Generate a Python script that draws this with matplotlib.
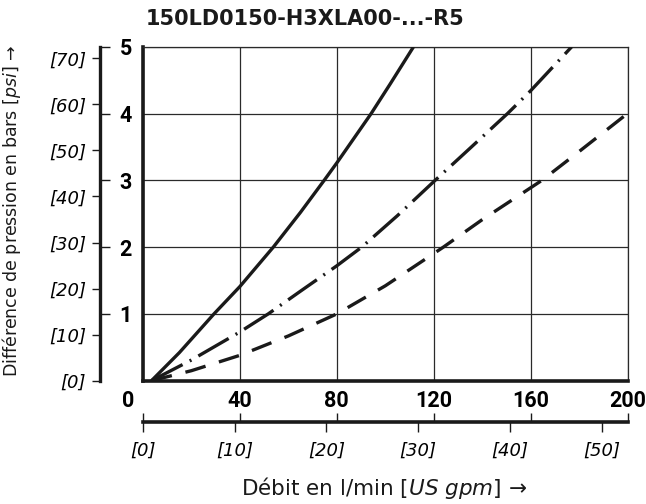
import matplotlib
matplotlib.use("Agg")
import matplotlib.pyplot as plt
import matplotlib.transforms as mtrans
from matplotlib.ticker import FixedLocator, FixedFormatter, NullFormatter

# ---------------- data ----------------
title = "150LD0150-H3XLA00-...-R5"

flow_solid = [3.5, 15, 29.3, 40, 53.8, 65, 74.8, 80, 94.2, 102, 111.7]
dp_solid = [0.0, 0.42, 1.0, 1.41, 2.0, 2.52, 3.0, 3.26, 4.0, 4.44, 5.0]

flow_dashdot = [3.5, 20, 40, 51.7, 65, 80, 90.3, 105, 120.6, 135, 150.5, 160, 177]
dp_dashdot = [0.0, 0.31, 0.73, 1.0, 1.34, 1.72, 2.0, 2.47, 3.0, 3.48, 4.0, 4.34, 5.0]

flow_dashed = [3.5, 20, 40, 60, 80, 100, 124, 140, 164.7, 180, 200]
dp_dashed = [0.0, 0.15, 0.38, 0.67, 1.0, 1.42, 2.0, 2.41, 3.0, 3.43, 4.0]

lpm_ticks = [0, 40, 80, 120, 160, 200]
bar_ticks = [1, 2, 3, 4, 5]
psi_ticks = [0, 10, 20, 30, 40, 50, 60, 70]
gpm_ticks = [0, 10, 20, 30, 40, 50]

xlabel_main = "Débit en l/min "
xlabel_unit = r"$\mathit{[US\ gpm]}$"
ylabel_main = "Différence de pression en bars "
ylabel_unit = r"$\mathit{[psi]}$"
arrow = " →"

PSI_PER_BAR = 14.5038
LPM_PER_GPM = 3.78541

# ---------------- fonts ----------------
plt.rcParams["font.family"] = ["DejaVu Sans"]
plt.rcParams["mathtext.fontset"] = "custom"
plt.rcParams["mathtext.rm"] = "DejaVu Sans"
plt.rcParams["mathtext.it"] = "DejaVu Sans:italic"

narrow = dict(family=["Roboto", "DejaVu Sans"], weight="bold")

INK = "#1a1a1a"
GRID = "#2a2a2a"

W, H = 646, 504
fig = plt.figure(figsize=(W / 100, H / 100), dpi=100)


def fx(px):
    return px / W


def fy(py):
    return 1 - py / H


L, R, T, B = 143, 627.5, 46.7, 380.7

# ---------------- main axes ----------------
ax = fig.add_axes([fx(L), fy(B), fx(R) - fx(L), fy(T) - fy(B)])
ax.set_xlim(0, 200)
ax.set_ylim(0, 5)
ax.set_axisbelow(True)
ax.grid(True, color=GRID, lw=0.9)
ax.set_xticks(lpm_ticks)
ax.set_yticks(bar_ticks)
ax.tick_params(length=0)
ax.tick_params(axis="x", pad=7)
ax.tick_params(axis="y", pad=8)
ax.set_xticklabels([str(v) for v in lpm_ticks], fontsize=15.5, **narrow)
ax.set_yticklabels([str(v) for v in bar_ticks], fontsize=15.5, **narrow)
for side in ["left", "bottom"]:
    ax.spines[side].set_linewidth(2.6)
    ax.spines[side].set_color(INK)
for side in ["top", "right"]:
    ax.spines[side].set_linewidth(0.9)
    ax.spines[side].set_color(GRID)

lab0 = ax.get_xticklabels()[0]
lab0.set_transform(lab0.get_transform() + mtrans.ScaledTranslation(-0.15, 0, fig.dpi_scale_trans))

lw = 2.4
ax.plot(flow_solid, dp_solid, color=INK, lw=lw, solid_capstyle="butt", zorder=3)
ax.plot(flow_dashdot, dp_dashdot, color=INK, lw=lw, dashes=(10.5, 2.4, 0.6, 2.4),
        dash_capstyle="butt", zorder=3)
ax.plot(flow_dashed, dp_dashed, color=INK, lw=lw, dashes=(6.3, 4.2),
        dash_capstyle="butt", zorder=3)

# ---------------- psi axis (left) ----------------
axp = fig.add_axes([fx(100), fy(B), 0.0005, fy(T) - fy(B)])
axp.set_ylim(0, 5)
axp.set_xticks([])
axp.patch.set_visible(False)
for side in ["top", "right", "bottom"]:
    axp.spines[side].set_visible(False)
axp.spines["left"].set_linewidth(2.4)
axp.spines["left"].set_color(INK)
axp.yaxis.remove_overlapping_locs = False
axp.yaxis.set_major_locator(FixedLocator([p / PSI_PER_BAR for p in psi_ticks]))
axp.yaxis.set_major_formatter(FixedFormatter([f"[{p}]" for p in psi_ticks]))
axp.yaxis.set_minor_locator(FixedLocator(bar_ticks))
axp.yaxis.set_minor_formatter(NullFormatter())
axp.tick_params(axis="y", which="major", direction="out", length=6, width=1,
                pad=4, labelsize=13, color=INK)
axp.tick_params(axis="y", which="minor", direction="in", length=7.5, width=1, color=INK)
for t in axp.get_yticklabels():
    t.set_style("italic")

# ---------------- gpm axis (bottom) ----------------
axb = fig.add_axes([fx(L), fy(422), fx(R) - fx(L), 0.0005])
axb.set_xlim(0, 200)
axb.set_yticks([])
axb.patch.set_visible(False)
for side in ["top", "right", "left"]:
    axb.spines[side].set_visible(False)
axb.spines["bottom"].set_linewidth(2.6)
axb.spines["bottom"].set_color(INK)
axb.xaxis.remove_overlapping_locs = False
axb.xaxis.set_major_locator(FixedLocator(lpm_ticks))
axb.xaxis.set_major_formatter(NullFormatter())
axb.xaxis.set_minor_locator(FixedLocator([g * LPM_PER_GPM for g in gpm_ticks]))
axb.xaxis.set_minor_formatter(FixedFormatter([f"[{g}]" for g in gpm_ticks]))
axb.tick_params(axis="x", which="major", direction="in", length=6.5, width=1, color=INK)
axb.tick_params(axis="x", which="minor", direction="out", length=7, width=1,
                pad=7, labelsize=13, labelbottom=True, color=INK)
for t in axb.xaxis.get_minorticklabels():
    t.set_style("italic")

# ---------------- texts ----------------
fig.text(fx(146), fy(19), title, ha="left", va="center", fontsize=15,
         weight="bold", color=INK)
fig.text(fx(384), fy(488), xlabel_main + xlabel_unit + arrow, ha="center",
         va="center", fontsize=15.5, color=INK)
fig.text(fx(12), fy(211), ylabel_main + ylabel_unit + arrow, ha="center",
         va="center", rotation=90, fontsize=12.5, color=INK)

fig.savefig("out.png", dpi=100)
